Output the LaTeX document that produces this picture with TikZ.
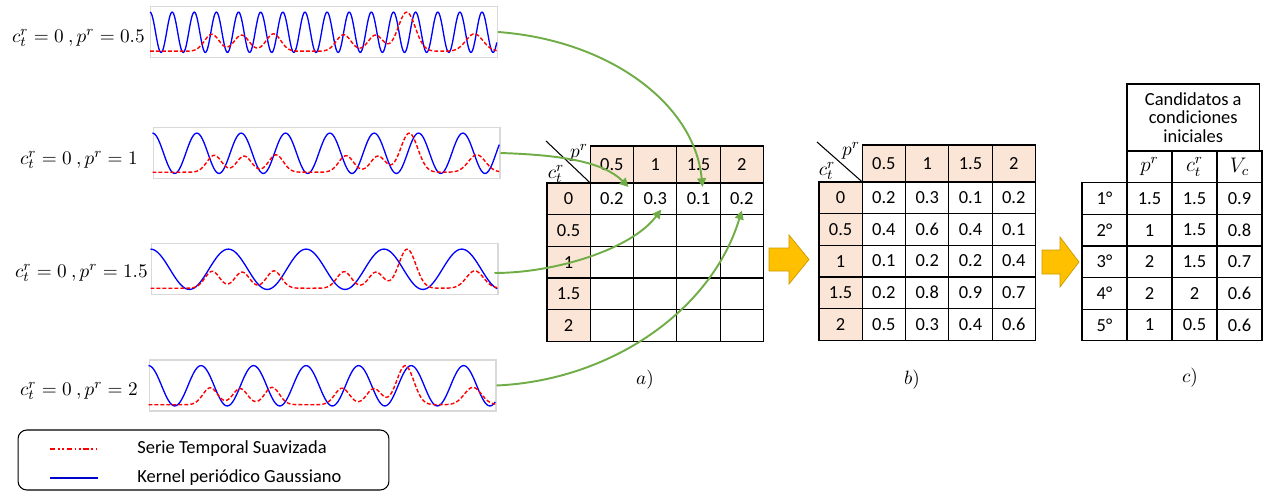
\documentclass[tikz,border=0pt]{standalone}
\usepackage{fontspec}
\setmainfont{Carlito}
\usepackage{amsmath}
\usetikzlibrary{positioning,arrows.meta,matrix,calc}
\definecolor{hdrfill}{RGB}{251,229,214}
\definecolor{pickgreen}{RGB}{112,173,71}
\definecolor{goldfill}{RGB}{255,192,0}
\definecolor{golddraw}{RGB}{204,153,0}
\definecolor{boxgray}{RGB}{217,217,217}
\tikzset{
  declare function={
    serie(\t)=0.03+0.42*exp(-1111*(\t-0.178)*(\t-0.178))
              +0.40*exp(-1111*(\t-0.264)*(\t-0.264))
              +0.43*exp(-1111*(\t-0.356)*(\t-0.356))
              +0.41*exp(-1111*(\t-0.558)*(\t-0.558))
              +0.40*exp(-1111*(\t-0.650)*(\t-0.650))
              +0.97*exp(-816*(\t-0.740)*(\t-0.740))
              +0.43*exp(-816*(\t-0.935)*(\t-0.935));
    kern(\t,\p)=0.5+0.5*cos(360*\t/\p);
  },
  cell/.style={draw,line width=0.7pt,minimum width=0.866cm,minimum height=0.633cm,
            inner sep=0pt,outer sep=0pt,anchor=center,font=\fontsize{10.5}{12}\selectfont},
  hcell/.style={cell,fill=hdrfill},
  emptycell/.style={draw=none,fill=none},
  tbl/.style={matrix of nodes,nodes={cell},nodes in empty cells,
            column sep=-0.7pt,row sep=-0.7pt,inner sep=0pt,anchor=north west},
  sigbox/.style={draw=boxgray,line width=0.6pt,minimum width=6.94cm,minimum height=1.02cm,
            inner sep=0pt},
  siglbl/.style={inner sep=0pt,font=\fontsize{11}{13}\selectfont},
  kernline/.style={blue,line width=0.75pt},
  serieline/.style={red,line width=0.8pt,dash pattern=on 2.2pt off 1.2pt},
  pick/.style={-{Triangle[length=5pt,width=5pt]},line width=1.1pt,pickgreen},
  bigarrow/.style={fill=goldfill,draw=golddraw,line width=0.4pt},
  legbox/.style={draw,line width=0.6pt,rounded corners=5pt,minimum width=7.42cm,
            minimum height=1.2cm},
  legtext/.style={anchor=west,inner sep=0pt,font=\fontsize{10.5}{12}\selectfont},
  sublbl/.style={inner sep=0pt,font=\fontsize{11}{13}\selectfont},
}
\newcommand\mhd[1]{{\fontsize{11.5}{12}\selectfont$#1$}}
\newcommand\sigplot[2]{%
  \begin{scope}[shift={(#1.south west)},x=6.94cm,y=1.02cm]
    \draw[kernline] plot[domain=0:1,samples=500] (\x,{0.11+0.79*kern(\x,#2)});
    \draw[serieline] plot[domain=0:1,samples=300] (\x,{0.11+0.79*serie(\x)});
  \end{scope}}

\begin{document}
\begin{tikzpicture}[x=0.02cm,y=-0.02cm]
  \useasboundingbox (0,0) rectangle (1267,493);

  % series against the periodic kernel
  \node[sigbox] (p1) at (324,32) {};
  \node[sigbox] (p2) at (326.5,153) {};
  \node[sigbox] (p3) at (324.5,269) {};
  \node[sigbox] (p4) at (322.5,385.5) {};
  \sigplot{p1}{0.0638}
  \sigplot{p2}{0.1278}
  \sigplot{p3}{0.2243}
  \sigplot{p4}{0.1514}
  \node[siglbl,anchor=east] (l1) at (145,38) {$c^{r}_{t} = 0\ ,p^r = 0.5$};
  \node[siglbl,anchor=east] (l2) at (138,160) {$c^{r}_{t} = 0\ ,p^r = 1$};
  \node[siglbl,anchor=east] (l3) at (148,273) {$c^{r}_{t} = 0\ ,p^r = 1.5$};
  \node[siglbl,anchor=east] (l4) at (138,391) {$c^{r}_{t} = 0\ ,p^r = 2$};

  % legend
  \node[legbox] (leg) at (203.5,460) {};
  \coordinate (r0) at (50,449);
  \coordinate (r1) at (98,449);
  \coordinate (b0) at (50,478);
  \coordinate (b1) at (98,478);
  \draw[red,line width=0.8pt,dash pattern=on 3pt off 1.5pt on 1pt off 1.5pt on 1pt off 1.5pt] (r0) -- (r1);
  \draw[blue!80!black,line width=0.8pt] (b0) -- (b1);
  \node[legtext] (t1) at (137,449) {Serie Temporal Suavizada};
  \node[legtext] (t2) at (137,478) {Kernel periódico Gaussiano};

  % table a
  \matrix (ta) [tbl,row 1/.style={nodes={hcell,minimum height=0.74cm}},
                column 1/.style={nodes={hcell}}] at (546,145) {
    |[emptycell]| & 0.5 & 1 & 1.5 & 2 \\
    0 & 0.2 & 0.3 & 0.1 & 0.2 \\
    0.5 & & & & \\
    1 & & & & \\
    1.5 & & & & \\
    2 & & & & \\
  };
  \draw[line width=0.6pt] ($(ta-1-1.north west)+(-1,-5)$) -- (ta-1-1.south east);
  \node[sublbl] (pa) at ($(ta-1-1.north west)+(32,7)$) {$p^r$};
  \node[sublbl] (ca) at ($(ta-1-1.north west)+(9,28)$) {$c^{r}_{t}$};
  \node[sublbl] (la) at (645,380) {$a)$};

  % table b
  \matrix (tb) [tbl,row 1/.style={nodes={hcell,minimum height=0.74cm}},
                column 1/.style={nodes={hcell}}] at (818,144) {
    |[emptycell]| & 0.5 & 1 & 1.5 & 2 \\
    0 & 0.2 & 0.3 & 0.1 & 0.2 \\
    0.5 & 0.4 & 0.6 & 0.4 & 0.1 \\
    1 & 0.1 & 0.2 & 0.2 & 0.4 \\
    1.5 & 0.2 & 0.8 & 0.9 & 0.7 \\
    2 & 0.5 & 0.3 & 0.4 & 0.6 \\
  };
  \draw[line width=0.6pt] ($(tb-1-1.north west)+(-2,-3)$) -- (tb-1-1.south east);
  \node[sublbl] (pb) at ($(tb-1-1.north west)+(32,6)$) {$p^r$};
  \node[sublbl] (cb) at ($(tb-1-1.north west)+(8,26)$) {$c^{r}_{t}$};
  \node[sublbl] (lb) at (912,380) {$b)$};

  % table c
  \matrix (tc) [tbl,nodes={minimum width=0.9cm}] at (1081,150) {
    |[emptycell]| & \mhd{p^r} & \mhd{c^{r}_{t}} & \mhd{V_c} \\
    1° & 1.5 & 1.5 & 0.9 \\
    2° & 1 & 1.5 & 0.8 \\
    3° & 2 & 1.5 & 0.7 \\
    4° & 2 & 2 & 0.6 \\
    5° & 1 & 0.5 & 0.6 \\
  };
  \node[cell,anchor=south west,minimum width={2.7cm-1.4pt},minimum height=1.34cm,
        align=center,font=\fontsize{10.5}{10.4}\selectfont] (cand) at (tc-1-2.north west)
       {Candidatos a\\condiciones\\iniciales};
  \node[sublbl] (lc) at (1190,378) {$c)$};

  % block arrows between tables
  \draw[bigarrow] (769,248) -- (789,248) -- (789,235) -- (809,259.5)
                  -- (789,284) -- (789,271) -- (769,271) -- cycle;
  \draw[bigarrow] (1042,250) -- (1060,250) -- (1060,237) -- (1079,262)
                  -- (1060,287) -- (1060,274) -- (1042,274) -- cycle;

  % green arrows from each series to its cell
  \draw[pick] (p1.east) .. controls ($(p1.east)+(110,8)$) and ($(ta-2-4.north)+(-4,-80)$)
              .. ($(ta-2-4.north)+(4,4)$);
  \draw[pick] (p2.east) .. controls ($(p2.east)+(62,2)$) and ($(ta-2-2.north east)+(-30,-21)$)
              .. ($(ta-2-2.north east)+(-5,4)$);
  \draw[pick] ($(p3.east)+(-4,4)$) .. controls ($(p3.east)+(56,4)$) and ($(ta-2-3.south)+(-24,35)$)
              .. ($(ta-2-3.south)+(6,-5)$);
  \draw[pick] (p4.east) .. controls ($(p4.east)+(114,-5)$) and ($(ta-2-5.south)+(-30,96)$)
              .. ($(ta-2-5.south)+(0,-4)$);
\end{tikzpicture}
\end{document}
